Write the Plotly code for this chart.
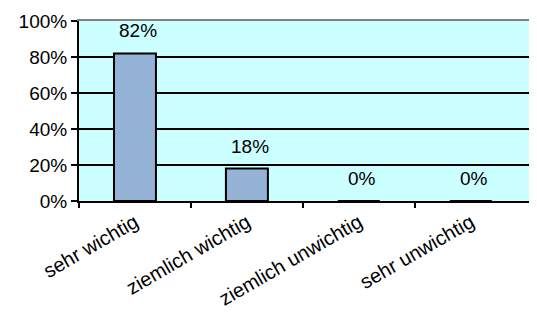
import plotly.graph_objects as go

categories = ["sehr wichtig", "ziemlich wichtig", "ziemlich unwichtig", "sehr unwichtig"]
values = [82, 18, 0, 0]
y_ticks = [0, 20, 40, 60, 80, 100]

positions = list(range(len(categories)))
boundaries = [p - 0.5 for p in positions]
xrange_ = [-0.5, len(categories) - 0.48]
font = "Arial, Liberation Sans, sans-serif"

fig = go.Figure()
fig.add_trace(go.Bar(
    x=positions, y=values,
    marker=dict(color="#95B3D7", line=dict(color="black", width=2)),
    width=0.375, cliponaxis=False,
))

# value labels placed above each bar
for p, v in zip(positions, values):
    fig.add_annotation(
        x=p, y=v, text=f"{v}%", showarrow=False, yanchor="bottom",
        yshift=10, xshift=3, font=dict(family=font, size=19, color="black"),
    )

# page body has an 8px margin, so the figure is sized/offset to compensate
fig.update_layout(
    width=521, height=301,
    margin=dict(l=71, r=0, t=13, b=108),
    paper_bgcolor="white", plot_bgcolor="#CCFFFF",
    showlegend=False,
    font=dict(family=font, size=19, color="black"),
    xaxis=dict(
        range=xrange_, tickmode="array", tickvals=positions, ticktext=categories,
        tickangle=-30, ticks="", showgrid=False, zeroline=False,
        showline=True, linecolor="black", linewidth=2,
        tickfont=dict(size=20), automargin=False,
    ),
    xaxis3=dict(
        overlaying="x", side="bottom", range=xrange_, tickmode="array",
        tickvals=boundaries, ticktext=[""] * len(boundaries),
        ticks="outside", ticklen=6, tickwidth=2, tickcolor="black",
        showgrid=False, zeroline=False, showline=False, automargin=False,
    ),
    xaxis2=dict(
        overlaying="x", side="top", range=xrange_, showticklabels=False,
        ticks="", showgrid=False, zeroline=False,
        showline=True, linecolor="#808080", linewidth=2, automargin=False,
    ),
    yaxis=dict(
        range=[0, 100], tickmode="array", tickvals=y_ticks,
        ticktext=[f"{t}%" for t in y_ticks],
        ticks="outside", ticklen=6, tickwidth=2, tickcolor="black",
        showgrid=True, gridcolor="black", gridwidth=2, zeroline=False,
        showline=True, linecolor="black", linewidth=2, automargin=False,
    ),
)
# invisible helper traces to activate the overlay axes
fig.add_trace(go.Scatter(x=[None], y=[None], xaxis="x3", showlegend=False, hoverinfo="skip"))
fig.add_trace(go.Scatter(x=[None], y=[None], xaxis="x2", showlegend=False, hoverinfo="skip"))

fig.write_html("out.html")
